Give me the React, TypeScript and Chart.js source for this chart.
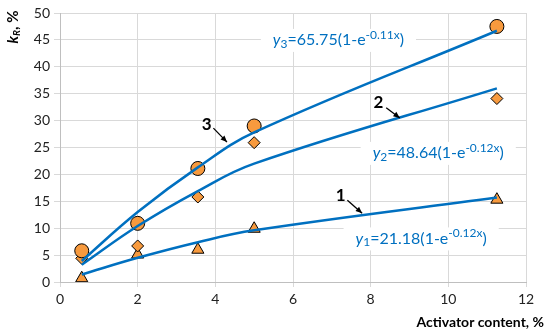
import React, { useEffect, useRef } from "react";
import { Chart, registerables } from "chart.js";

Chart.register(...registerables);

const xValues = [0.56, 2, 3.55, 5, 11.25];
const series3Points = [5.8, 10.9, 21.1, 29.0, 47.5];
const series2Points = [4.4, 6.7, 15.8, 25.9, 34.1];
const series1Points = [0.7, 5.1, 6.0, 9.9, 15.3];
const fit3 = [3.9, 13.0, 21.3, 27.8, 46.7];
const fit2 = [3.2, 10.4, 16.9, 22.0, 36.0];
const fit1 = [1.4, 4.5, 7.4, 9.6, 15.7];
const xTicks = [0, 2, 4, 6, 8, 10, 12];
const yTicks = [0, 5, 10, 15, 20, 25, 30, 35, 40, 45, 50];

const BLUE = "#0070C0";
const ORANGE = "#F79A3E";
const FONT = "Lato";

type Seg = { t: string; f: string; dy?: number };

function richWidth(ctx: CanvasRenderingContext2D, segs: Seg[]) {
  let w = 0;
  for (const s of segs) {
    ctx.font = s.f;
    w += ctx.measureText(s.t).width;
  }
  return w;
}

function drawRich(ctx: CanvasRenderingContext2D, segs: Seg[], x: number, y: number, color: string) {
  let cx = x;
  ctx.fillStyle = color;
  ctx.textBaseline = "middle";
  ctx.textAlign = "left";
  for (const s of segs) {
    ctx.font = s.f;
    ctx.fillText(s.t, cx, y + (s.dy || 0));
    cx += ctx.measureText(s.t).width;
  }
}

function eqSegs(idx: string, a: string, b: string): Seg[] {
  const base = `16px ${FONT}`;
  return [
    { t: "y", f: `italic 16px ${FONT}` },
    { t: idx, f: `12px ${FONT}`, dy: 4 },
    { t: `=${a}(1-e`, f: base },
    { t: `-${b}x`, f: `12px ${FONT}`, dy: -5 },
    { t: ")", f: base },
  ];
}

const equations = [
  { segs: eqSegs("3", "65.75", "0.11"), x: 7.17, y: 45.0 },
  { segs: eqSegs("2", "48.64", "0.12"), x: 9.74, y: 24.0 },
  { segs: eqSegs("1", "21.18", "0.12"), x: 9.3, y: 8.1 },
];

const curveLabels = [
  { text: "3", x: 3.78, y: 29.2, ax: [3.95, 28.6], bx: [4.3, 26.0] },
  { text: "2", x: 8.2, y: 33.3, ax: [8.4, 32.4], bx: [8.75, 30.5] },
  { text: "1", x: 7.23, y: 16.1, ax: [7.4, 15.2], bx: [7.78, 12.8] },
];

const annotPlugin = {
  id: "annot",
  beforeDatasetsDraw(chart: any) {
    const ctx = chart.ctx as CanvasRenderingContext2D;
    const xs = chart.scales.x;
    const ys = chart.scales.y;
    ctx.save();
    for (const e of equations) {
      const w = richWidth(ctx, e.segs);
      const cx = xs.getPixelForValue(e.x);
      const cy = ys.getPixelForValue(e.y);
      ctx.fillStyle = "#ffffff";
      ctx.fillRect(cx - w / 2 - 12, cy - 11, w + 24, 23);
      drawRich(ctx, e.segs, cx - w / 2, cy, BLUE);
    }
    ctx.restore();
  },
  afterDatasetsDraw(chart: any) {
    const ctx = chart.ctx as CanvasRenderingContext2D;
    const xs = chart.scales.x;
    const ys = chart.scales.y;
    ctx.save();
    for (const l of curveLabels) {
      ctx.font = `bold 17px ${FONT}`;
      ctx.fillStyle = "#000";
      ctx.textAlign = "center";
      ctx.textBaseline = "middle";
      ctx.fillText(l.text, xs.getPixelForValue(l.x), ys.getPixelForValue(l.y));
      const x1 = xs.getPixelForValue(l.ax[0]);
      const y1 = ys.getPixelForValue(l.ax[1]);
      const x2 = xs.getPixelForValue(l.bx[0]);
      const y2 = ys.getPixelForValue(l.bx[1]);
      ctx.strokeStyle = "#000";
      ctx.lineWidth = 1.3;
      ctx.beginPath();
      ctx.moveTo(x1, y1);
      ctx.lineTo(x2, y2);
      ctx.stroke();
      const ang = Math.atan2(y2 - y1, x2 - x1);
      const hl = 7;
      ctx.beginPath();
      ctx.moveTo(x2, y2);
      ctx.lineTo(x2 - hl * Math.cos(ang - 0.4), y2 - hl * Math.sin(ang - 0.4));
      ctx.lineTo(x2 - hl * Math.cos(ang + 0.4), y2 - hl * Math.sin(ang + 0.4));
      ctx.closePath();
      ctx.fill();
    }
    // axis titles
    const area = chart.chartArea;
    ctx.fillStyle = "#000";
    ctx.textBaseline = "middle";
    ctx.textAlign = "right";
    ctx.font = `bold 14px ${FONT}`;
    ctx.fillText("Activator content, %", area.right + 18, 322);
    ctx.translate(13, 27);
    ctx.rotate(-Math.PI / 2);
    const segs: Seg[] = [
      { t: "k", f: `bold italic 15px ${FONT}` },
      { t: "R", f: `bold italic 10px ${FONT}`, dy: 4 },
      { t: ", %", f: `bold 15px ${FONT}` },
    ];
    const w = richWidth(ctx, segs);
    drawRich(ctx, segs, -w / 2, 0, "#000");
    ctx.restore();
  },
};

function pts(ys: number[]) {
  return xValues.map((x, i) => ({ x, y: ys[i] }));
}

export default function App() {
  const ref = useRef<HTMLCanvasElement>(null);
  useEffect(() => {
    if (!ref.current) return;
    const markerBase = {
      showLine: false,
      backgroundColor: ORANGE,
      borderColor: "#000",
      borderWidth: 1,
    };
    const lineBase = {
      showLine: true,
      borderColor: BLUE,
      borderWidth: 2.5,
      pointRadius: 0,
      tension: 0.4,
      fill: false,
    };
    const chart = new Chart(ref.current, {
      type: "scatter",
      data: {
        datasets: [
          { ...lineBase, label: "fit3", data: pts(fit3) },
          { ...lineBase, label: "fit2", data: pts(fit2) },
          { ...lineBase, label: "fit1", data: pts(fit1) },
          { ...markerBase, label: "3", data: pts(series3Points), pointStyle: "circle", pointRadius: 7 },
          { ...markerBase, label: "2", data: pts(series2Points), pointStyle: "rectRot", pointRadius: 6 },
          { ...markerBase, label: "1", data: pts(series1Points), pointStyle: "triangle", pointRadius: 7 },
        ] as any,
      },
      options: {
        animation: false,
        responsive: false,
        layout: { padding: { top: 13, right: 24, left: 0, bottom: 0 } },
        plugins: { legend: { display: false }, tooltip: { enabled: false } },
        scales: {
          x: {
            type: "linear",
            min: 0,
            max: 12,
            afterBuildTicks: (s: any) => {
              s.ticks = xTicks.map((v) => ({ value: v }));
            },
            afterFit: (s: any) => {
              s.height = 53;
            },
            grid: { color: "#D9D9D9", lineWidth: 1, tickLength: 5 },
            border: { color: "#BFBFBF", width: 1 },
            ticks: { color: "#222", font: { family: FONT, size: 14 }, padding: 4 },
          },
          y: {
            type: "linear",
            min: 0,
            max: 50,
            afterBuildTicks: (s: any) => {
              s.ticks = yTicks.map((v) => ({ value: v }));
            },
            afterFit: (s: any) => {
              s.width = 60;
            },
            grid: { color: "#D9D9D9", lineWidth: 1, tickLength: 6 },
            border: { color: "#BFBFBF", width: 1 },
            ticks: { color: "#222", font: { family: FONT, size: 14 }, padding: 4 },
          },
        },
      },
      plugins: [annotPlugin],
    });
    return () => chart.destroy();
  }, []);
  return (
    <div style={{ position: "fixed", left: 0, top: 0, width: 550, height: 335, background: "#fff" }}>
      <canvas ref={ref} width={550} height={335} style={{ width: 550, height: 335 }} />
    </div>
  );
}
